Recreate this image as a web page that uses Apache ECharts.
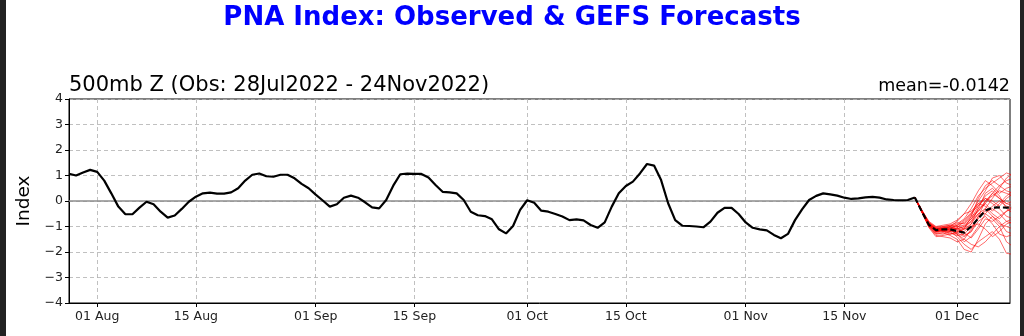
<!DOCTYPE html>
<html>
<head>
<meta charset="utf-8">
<script src="https://cdn.jsdelivr.net/npm/echarts@6/dist/echarts.min.js"></script>
<style>
  html, body { margin: 0; padding: 0; background: #fff; }
  #main { width: 1024px; height: 336px; }
</style>
</head>
<body>
<div id="main"></div>
<script>
// observed daily PNA index, starting 28 Jul 2022
const obsStart = '2022-07-28';
const obsValues = [
  1.07, 1.00, 1.12, 1.22, 1.14, 0.80, 0.30, -0.22, -0.52, -0.52,
  -0.26, -0.03, -0.13, -0.42, -0.65, -0.57, -0.31, -0.03, 0.17, 0.30,
  0.33, 0.29, 0.29, 0.34, 0.50, 0.80, 1.03, 1.08, 0.97, 0.95,
  1.03, 1.03, 0.89, 0.67, 0.50, 0.25, 0.02, -0.22, -0.13, 0.13,
  0.21, 0.13, -0.05, -0.25, -0.29, 0.04, 0.60, 1.05, 1.07, 1.06,
  1.06, 0.92, 0.63, 0.36, 0.34, 0.30, 0.04, -0.42, -0.56, -0.59,
  -0.72, -1.11, -1.27, -0.98, -0.35, 0.03, -0.07, -0.38, -0.42, -0.51,
  -0.61, -0.75, -0.72, -0.76, -0.94, -1.05, -0.84, -0.22, 0.30, 0.59,
  0.76, 1.08, 1.45, 1.39, 0.82, -0.09, -0.75, -0.97, -0.98, -1.00,
  -1.03, -0.81, -0.46, -0.27, -0.27, -0.51, -0.84, -1.05, -1.11, -1.15,
  -1.33, -1.46, -1.29, -0.75, -0.33, 0.04, 0.20, 0.30, 0.26, 0.21,
  0.13, 0.08, 0.10, 0.14, 0.16, 0.13, 0.06, 0.04, 0.03, 0.04,
  0.14
];

// GEFS forecast, starting 25 Nov 2022
const fcstStart = '2022-11-25';
const fcstMean = [0.14, -0.42, -0.94, -1.14, -1.11, -1.11, -1.18, -1.24, -1.00, -0.68, -0.38, -0.26, -0.25, -0.26, -0.26];
const members = [
  [0.14, -0.40, -0.90, -1.10, -1.05, -1.00, -0.90, -0.70, -0.30, 0.20, 0.50, 0.70, 0.90, 1.10, 1.00],
  [0.14, -0.45, -0.95, -1.20, -1.15, -1.20, -1.40, -1.70, -1.90, -1.60, -1.40, -1.20, -1.50, -2.05, -2.10],
  [0.14, -0.35, -0.85, -1.05, -1.10, -1.00, -0.80, -0.50, -0.10, 0.40, 0.80, 0.60, 0.30, 0.50, 0.60],
  [0.14, -0.42, -1.00, -1.30, -1.25, -1.35, -1.50, -1.90, -2.00, -1.50, -0.90, -0.60, -0.80, -1.20, -1.30],
  [0.14, -0.40, -0.88, -1.15, -1.10, -1.05, -1.10, -1.00, -0.70, -0.20, 0.10, 0.00, -0.20, 0.10, 0.30],
  [0.14, -0.38, -0.92, -1.12, -1.00, -0.95, -0.85, -0.90, -0.60, -0.40, -0.10, 0.30, 0.60, 0.80, 0.90],
  [0.14, -0.44, -1.05, -1.40, -1.35, -1.30, -1.25, -1.40, -1.20, -0.80, -0.60, -0.90, -1.30, -1.40, -1.30],
  [0.14, -0.40, -0.90, -1.10, -1.20, -1.30, -1.20, -1.10, -0.90, -0.30, 0.30, 0.50, 0.20, -0.30, -0.50],
  [0.14, -0.36, -0.80, -1.00, -0.95, -0.90, -0.75, -0.50, -0.40, -0.10, -0.20, -0.50, -0.70, -0.40, -0.20],
  [0.14, -0.43, -0.98, -1.25, -1.20, -1.10, -1.30, -1.60, -1.40, -1.00, -0.50, -0.20, 0.00, -0.20, -0.30],
  [0.14, -0.41, -0.93, -1.15, -1.15, -1.20, -1.05, -0.80, -0.50, 0.00, 0.40, 0.90, 1.00, 0.70, 0.60],
  [0.14, -0.39, -0.87, -1.08, -1.10, -1.15, -1.30, -1.50, -1.70, -1.80, -1.60, -1.30, -1.00, -0.80, -0.70],
  [0.14, -0.42, -0.95, -1.20, -1.05, -1.00, -1.10, -1.20, -0.90, -0.50, -0.30, -0.60, -0.90, -1.00, -1.10],
  [0.14, -0.40, -0.90, -1.15, -1.10, -1.10, -1.00, -0.95, -0.70, -0.40, 0.00, 0.20, 0.40, 0.30, 0.20],
  [0.14, -0.45, -1.02, -1.35, -1.40, -1.45, -1.60, -1.50, -1.10, -0.60, -0.40, -0.30, -0.50, -0.80, -0.90],
  [0.14, -0.37, -0.84, -1.02, -1.00, -0.95, -1.00, -1.10, -1.00, -0.70, -0.30, 0.10, 0.50, 0.90, 1.10],
  [0.14, -0.40, -0.91, -1.18, -1.22, -1.15, -1.05, -1.25, -1.45, -1.10, -0.70, -0.80, -0.60, -0.40, -0.30],
  [0.14, -0.41, -0.96, -1.22, -1.12, -1.05, -0.95, -0.75, -0.45, -0.20, 0.20, 0.40, 0.10, -0.10, 0.00],
  [0.14, -0.38, -0.89, -1.10, -1.18, -1.25, -1.35, -1.30, -1.00, -0.90, -1.10, -1.40, -1.20, -0.90, -0.80],
  [0.14, -0.43, -0.97, -1.20, -1.15, -1.10, -1.20, -1.05, -0.80, -0.30, -0.10, -0.40, -0.10, 0.20, 0.40],
  [0.14, -0.40, -0.92, -1.12, -1.08, -1.02, -1.15, -1.35, -1.20, -0.60, 0.00, 0.30, 0.10, -0.10, -0.20],
  [0.14, -0.39, -0.86, -1.05, -1.02, -1.08, -0.95, -0.85, -0.55, -0.10, 0.10, -0.10, -0.30, -0.60, -0.70],
  [0.14, -0.44, -1.00, -1.28, -1.30, -1.20, -1.10, -1.00, -0.80, -0.50, -0.50, -0.70, -1.00, -1.60, -1.80],
  [0.14, -0.40, -0.90, -1.10, -1.05, -1.15, -1.25, -1.10, -0.60, 0.10, 0.60, 0.80, 0.60, 0.40, 0.30]
];

const xTickDates = ['2022-08-01', '2022-08-15', '2022-09-01', '2022-09-15', '2022-10-01',
                    '2022-10-15', '2022-11-01', '2022-11-15', '2022-12-01'];
const yTicks = [-4, -3, -2, -1, 0, 1, 2, 3, 4];
const xMin = '2022-07-28';
const xMax = '2022-12-08T12:00:00Z';

const DAY = 86400000;
const months = ['Jan','Feb','Mar','Apr','May','Jun','Jul','Aug','Sep','Oct','Nov','Dec'];
const t = s => Date.parse(s.length === 10 ? s + 'T00:00:00Z' : s);
const toPairs = (start, vals) => vals.map((v, i) => [t(start) + i * DAY, v]);

const chart = echarts.init(document.getElementById('main'), null, { renderer: 'canvas' });
const font = 'DejaVu Sans';

const series = [];
members.forEach((m, i) => {
  series.push({
    type: 'line',
    name: 'member' + i,
    data: toPairs(fcstStart, m),
    showSymbol: false,
    silent: true,
    lineStyle: { color: '#ff0000', width: 0.9, opacity: 0.65 },
    z: 3
  });
});
series.push({
  type: 'line',
  name: 'obs',
  data: toPairs(obsStart, obsValues),
  showSymbol: false,
  lineStyle: { color: '#000', width: 2.2 },
  z: 5,
  markLine: {
    silent: true,
    symbol: 'none',
    label: { show: false },
    lineStyle: { color: '#8c8c8c', width: 1.6, type: 'solid' },
    data: [{ yAxis: 0 }],
    z: 2
  }
});
series.push({
  type: 'line',
  name: 'mean',
  data: toPairs(fcstStart, fcstMean),
  showSymbol: false,
  lineStyle: { color: '#000', width: 2.2, type: [6, 3] },
  z: 6
});

const tickVals = xTickDates.map(t);

const option = {
  animation: false,
  backgroundColor: '#fff',
  title: [
    {
      text: 'PNA Index: Observed & GEFS Forecasts',
      left: 'center', top: 0,
      textStyle: { color: '#0000ff', fontFamily: font, fontWeight: 'bold', fontSize: 26 }
    },
    {
      text: '500mb Z (Obs: 28Jul2022 - 24Nov2022)',
      left: 64, top: 70,
      textStyle: { color: '#000', fontFamily: font, fontWeight: 'normal', fontSize: 21 }
    },
    {
      text: 'mean=-0.0142',
      right: 9, top: 72,
      textStyle: { color: '#000', fontFamily: font, fontWeight: 'normal', fontSize: 17.5 }
    }
  ],
  graphic: [
    { type: 'rect', left: 0, top: 0, shape: { width: 6, height: 336 }, style: { fill: '#222' } },
    { type: 'rect', left: 1020, top: 0, shape: { width: 4, height: 336 }, style: { fill: '#222' } }
  ],
  grid: {
    left: 69, right: 14, top: 99, bottom: 33,
    show: true, borderColor: '#000', borderWidth: 1, backgroundColor: 'transparent'
  },
  xAxis: {
    type: 'value',
    min: t(xMin), max: t(xMax),
    axisLine: { show: true, onZero: false, lineStyle: { color: '#000', width: 1 } },
    axisTick: { show: true, length: 4, lineStyle: { color: '#000' }, customValues: tickVals },
    axisLabel: {
      customValues: tickVals,
      color: '#222', fontFamily: font, fontSize: 12.5, margin: 7,
      formatter: v => {
        const d = new Date(v);
        return String(d.getUTCDate()).padStart(2, '0') + ' ' + months[d.getUTCMonth()];
      }
    },
    splitLine: { show: true, lineStyle: { color: '#b0b0b0', type: [4, 3], width: 0.8 } }
  },
  yAxis: {
    type: 'value',
    min: yTicks[0], max: yTicks[yTicks.length - 1], interval: 1,
    name: 'Index',
    nameLocation: 'middle',
    nameGap: 34,
    nameTextStyle: { color: '#000', fontFamily: font, fontSize: 18.5 },
    axisLine: { show: true, onZero: false, lineStyle: { color: '#000', width: 1 } },
    axisTick: { show: true, length: 4, lineStyle: { color: '#000' } },
    axisLabel: {
      color: '#222', fontFamily: font, fontSize: 12.5, margin: 6,
      formatter: v => (v < 0 ? '\u2212' + Math.abs(v) : String(v))
    },
    splitLine: { show: true, lineStyle: { color: '#b0b0b0', type: [4, 3], width: 0.8 } }
  },
  series: series
};

chart.setOption(option);
</script>
</body>
</html>
